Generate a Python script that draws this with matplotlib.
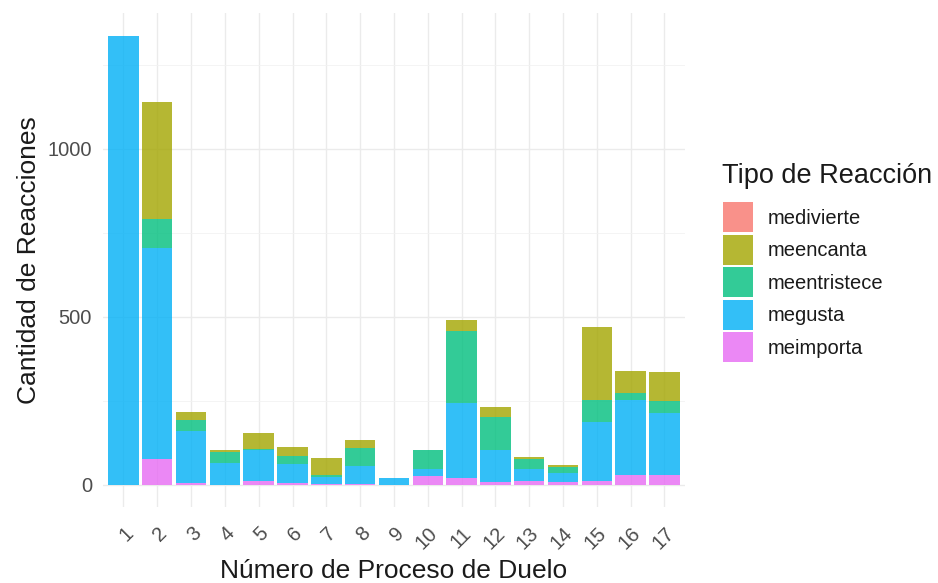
import matplotlib
matplotlib.use("Agg")
import matplotlib.pyplot as plt
from matplotlib.patches import Rectangle
import numpy as np

plt.rcParams['font.family'] = ['Liberation Sans', 'DejaVu Sans']

procesos = list(range(1, 18))
tick_labels = [str(p) for p in procesos]
tipos = ["medivierte", "meencanta", "meentristece", "megusta", "meimporta"]

medivierte   = [0, 0, 0, 0, 0, 0, 0, 0, 0, 0, 0, 0, 0, 0, 0, 0, 0]
meencanta    = [0, 347, 25, 7, 47, 26, 51, 25, 0, 0, 34, 29, 8, 6, 216, 66, 88]
meentristece = [0, 85, 34, 31, 2, 25, 5, 52, 0, 58, 214, 97, 30, 19, 65, 22, 36]
megusta      = [1336, 630, 154, 66, 94, 57, 20, 55, 21, 21, 223, 95, 34, 25, 176, 222, 184]
meimporta    = [0, 76, 5, 0, 10, 5, 3, 2, 0, 25, 20, 9, 12, 9, 12, 29, 29]

colores = {"medivierte": "#F8766D", "meencanta": "#A3A500",
           "meentristece": "#00BF7D", "megusta": "#00B0F6", "meimporta": "#E76BF3"}
alpha = 0.8

W, H = 938, 583
fig = plt.figure(figsize=(W / 100, H / 100), dpi=100)
ax = fig.add_axes([0.110, 0.130, 0.620, 0.847])

x = np.array(procesos)
# stacking order from bottom: meimporta, megusta, meentristece, meencanta, medivierte
stack = [("meimporta", meimporta), ("megusta", megusta), ("meentristece", meentristece),
         ("meencanta", meencanta), ("medivierte", medivierte)]
bottom = np.zeros(len(x))
for name, vals in stack:
    v = np.array(vals, dtype=float)
    ax.bar(x, v, bottom=bottom, width=0.9, color=colores[name], alpha=alpha,
           linewidth=0, zorder=3)
    bottom += v

total_max = bottom.max()
ax.set_xlim(0.4, 17.6)
ax.set_ylim(-0.05 * total_max, total_max * 1.05)
ax.set_xticks(x)
ax.set_xticklabels(tick_labels, rotation=45, ha='right', va='top',
                   rotation_mode='anchor', fontsize=14.5, color='#4D4D4D')
ax.set_yticks([0, 500, 1000])
ax.set_yticklabels(["0", "500", "1000"], fontsize=14.5, color='#4D4D4D')
ax.set_yticks([250, 750, 1250], minor=True)
ax.tick_params(axis='both', which='both', length=0)
ax.tick_params(axis='y', pad=8)
ax.tick_params(axis='x', pad=12)
ax.grid(True, which='major', color='#EBEBEB', linewidth=1.0, zorder=0)
ax.grid(True, which='minor', axis='y', color='#F2F2F2', linewidth=0.6, zorder=0)
for s in ax.spines.values():
    s.set_visible(False)

ax.set_xlabel("Número de Proceso de Duelo", fontsize=19, color='#1A1A1A', labelpad=4)
ax.set_ylabel("Cantidad de Reacciones", fontsize=19, color='#1A1A1A', labelpad=5)

# legend drawn in figure pixel coordinates (ggplot-style keys)
def fx(px):
    return px / W

def fy(py):
    return 1 - py / H

fig.text(fx(722), fy(183), "Tipo de Reacción", fontsize=19.5, color='#1A1A1A',
         ha='left', va='baseline')
key_left, key_size, key_top, key_pitch = 723, 30, 202, 32.6
for i, t in enumerate(tipos):
    top = key_top + i * key_pitch
    fig.add_artist(Rectangle((fx(key_left), fy(top + key_size)), key_size / W, key_size / H,
                             transform=fig.transFigure, facecolor=colores[t], alpha=alpha,
                             edgecolor='none'))
    fig.text(fx(768), fy(top + key_size / 2 + 1), t, fontsize=14.5, color='#1A1A1A',
             ha='left', va='center')

fig.savefig("out.png", dpi=100)
